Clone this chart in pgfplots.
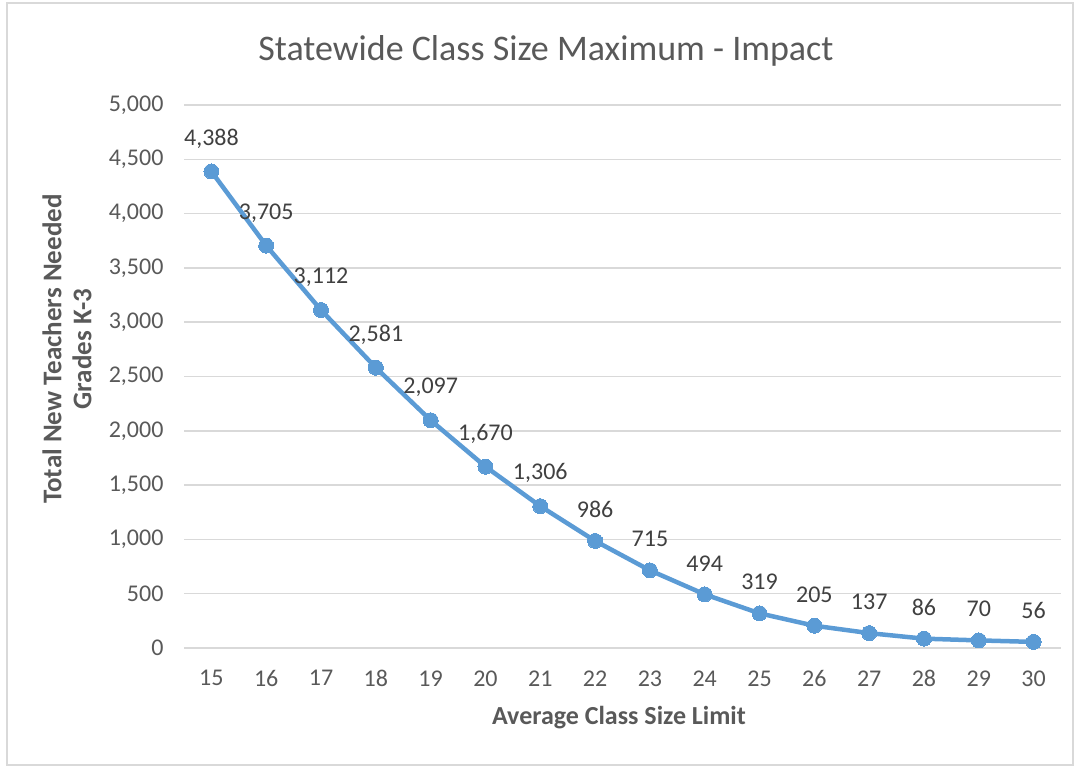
\documentclass[border=0pt]{standalone}
\usepackage{pgfplots}
\pgfplotsset{compat=1.18}
\usepackage{fontspec}
\setmainfont{Carlito}
\definecolor{lineblue}{HTML}{5B9BD5}
\definecolor{gridgray}{HTML}{D9D9D9}
\definecolor{ticktext}{HTML}{595959}
\definecolor{labtext}{HTML}{404040}
\begin{document}
\begin{tikzpicture}[x=1pt,y=1pt]
\path (0,0) rectangle (1078,768);
\draw[gridgray, line width=1.5pt] (7,3) rectangle (1073,765);
\begin{axis}[
  at={(184pt,120pt)}, anchor=south west,
  scale only axis, width=877pt, height=543pt,
  xmin=14.5, xmax=30.5, ymin=0, ymax=5000,
  xtick={15,...,30}, ytick={0,500,...,5000},
  axis line style={draw=none}, tick style={draw=none},
  ymajorgrids, grid style={gridgray, line width=1.5pt},
  /pgf/number format/assume math mode=true,
  /pgf/number format/1000 sep={,},
  ticklabel style={font=\fontsize{24}{28}\selectfont, text=ticktext},
  yticklabel style={xshift=-17pt},
  xticklabel style={yshift=-19pt},
  clip=false,
  nodes near coords,
  every node near coord/.append style={font=\fontsize{24}{28}\selectfont, text=labtext, yshift=20pt},
]
\addplot[lineblue, line width=4.5pt, mark=*, mark size=7.5pt, mark options={fill=lineblue, draw=lineblue, line width=0pt}] coordinates {
(15,4388) (16,3705) (17,3112) (18,2581) (19,2097) (20,1670) (21,1306) (22,986)
(23,715) (24,494) (25,319) (26,205) (27,137) (28,86) (29,70) (30,56)
};
\end{axis}
\node[font=\fontsize{36}{42}\selectfont, text=ticktext] at (546,717) {Statewide Class Size Maximum - Impact};
\node[font=\fontsize{26}{30}\selectfont\bfseries, text=ticktext] at (619,50) {Average Class Size Limit};
\node[font=\fontsize{27}{30}\selectfont\bfseries, text=ticktext, rotate=90, align=center] at (67,419) {Total New Teachers Needed\\Grades K-3};
\end{tikzpicture}
\end{document}
